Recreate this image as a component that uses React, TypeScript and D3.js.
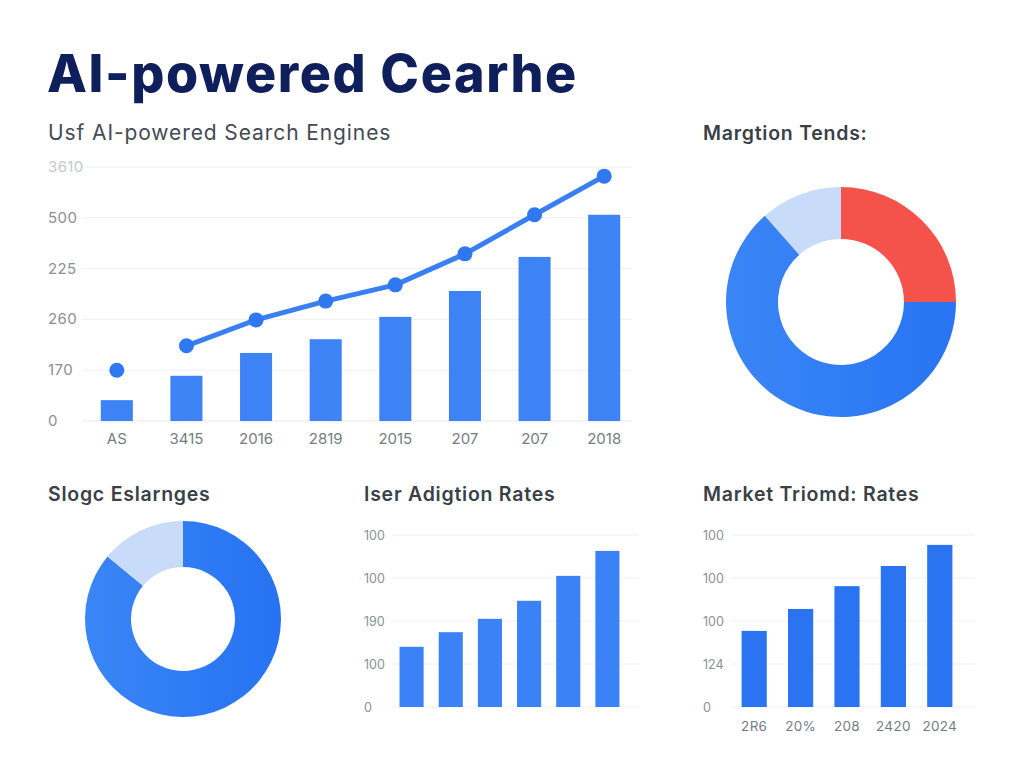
import React from "react";
import * as d3 from "d3";

// ---------- data ----------
const mainCategories = ["AS", "3415", "2016", "2819", "2015", "207", "207", "2018"];
const mainBars = [41, 89, 134, 161, 205, 256, 323, 406];
const mainLine = [100, 148, 199, 236, 268, 329, 406, 482];
const mainTickValues = [0, 100, 200, 300, 400, 500];
const mainTickLabels = ["0", "170", "260", "225", "500", "3610"];

const topDonutValues = [25, 63.5, 11.5];
const topDonutColors = ["#f4524a", "url(#gradA)", "#c8dbf8"];

const leftDonutValues = [86, 14];
const leftDonutColors = ["url(#gradB)", "#c8dbf8"];

const adoptionValues = [140, 174, 205, 247, 305, 363];
const adoptionTickValues = [0, 100, 200, 300, 400];
const adoptionTickLabels = ["0", "100", "190", "100", "100"];

const marketCategories = ["2R6", "20%", "208", "2420", "2024"];
const marketValues = [177, 228, 281, 328, 377];
const marketTickValues = [0, 100, 200, 300, 400];
const marketTickLabels = ["0", "124", "100", "100", "100"];

const FONT = "Inter, 'Open Sans', sans-serif";
const TICK = "#8a8f98";
const GRID = "#eef0f3";
const HEAD = "#3a3f48";

function MainChart() {
  const x = d3.scaleBand<string>().domain(mainCategories.map((c, i) => i + "")).range([82, 639]).paddingInner(0.54).paddingOuter(0.27);
  const y = d3.scaleLinear().domain([0, 500]).range([421, 167]);
  const cx = (i: number) => (x(i + "") as number) + x.bandwidth() / 2;
  const line = d3.line<number>().x((_, i) => cx(i + 1)).y((d) => y(d));
  return (
    <g>
      {mainTickValues.map((t, i) => (
        <g key={t}>
          <line x1={82} x2={632} y1={y(t)} y2={y(t)} stroke={i === 0 ? "#e6e9ee" : GRID} strokeWidth={1} />
          <text x={48} y={y(t) + 5} fontSize={15} letterSpacing={0.4} fill={i === 5 ? "#c4c7cc" : TICK} fontFamily={FONT}>{mainTickLabels[i]}</text>
        </g>
      ))}
      {mainBars.map((v, i) => (
        <rect key={i} x={x(i + "")} y={y(v)} width={x.bandwidth()} height={y(0) - y(v)} fill="#3d83f5" />
      ))}
      <path d={line(mainLine.slice(1)) || ""} fill="none" stroke="#3a7ff0" strokeWidth={5} strokeLinejoin="round" />
      {mainLine.map((v, i) => (
        <circle key={i} cx={cx(i)} cy={y(v)} r={7.5} fill="#2f78f0" />
      ))}
      {mainCategories.map((c, i) => (
        <text key={i} x={cx(i)} y={444} textAnchor="middle" fontSize={15} fill="#767c85" fontFamily={FONT}>{c}</text>
      ))}
    </g>
  );
}

function Donut({ cx, cy, r0, r1, values, colors }: any) {
  const pie = d3.pie<number>().sort(null).value((d) => d);
  const arc = d3.arc<d3.PieArcDatum<number>>().innerRadius(r0).outerRadius(r1);
  return (
    <g transform={`translate(${cx},${cy})`}>
      {pie(values).map((a, i) => (
        <path key={i} d={arc(a) || ""} fill={colors[i]} />
      ))}
    </g>
  );
}

function SmallBars({ x0, x1, y0, y1, labelX, values, tickValues, tickLabels, categories, padding, color }: any) {
  const x = d3.scaleBand<string>().domain(values.map((_: number, i: number) => i + "")).range([x0, x1]).paddingInner(padding).paddingOuter(padding / 2);
  const y = d3.scaleLinear().domain([0, 400]).range([y0, y1]);
  return (
    <g>
      {tickValues.map((t: number, i: number) => (
        <g key={t}>
          <line x1={labelX + 28} x2={x1 + 12} y1={y(t)} y2={y(t)} stroke={GRID} />
          <text x={labelX} y={y(t) + 4.5} fontSize={12.5} fill={TICK} fontFamily={FONT}>{tickLabels[i]}</text>
        </g>
      ))}
      {values.map((v: number, i: number) => (
        <rect key={i} x={x(i + "")} y={y(v)} width={x.bandwidth()} height={y(0) - y(v)} fill={color} />
      ))}
      {categories && categories.map((c: string, i: number) => (
        <text key={i} x={(x(i + "") as number) + x.bandwidth() / 2} y={731} textAnchor="middle" fontSize={13.5} letterSpacing={0.3} fill="#767c85" fontFamily={FONT}>{c}</text>
      ))}
    </g>
  );
}

export default function App() {
  const head = { fontSize: 19.5, fontWeight: 600, fill: HEAD, fontFamily: FONT, letterSpacing: 0.75 };
  return (
    <svg width={1024} height={768} style={{ position: "absolute", left: 0, top: 0, background: "#ffffff" }}>
      <defs>
        <linearGradient id="gradA" x1="0" x2="1" y1="0" y2="0">
          <stop offset="0" stopColor="#3a86f6" />
          <stop offset="1" stopColor="#2874f2" />
        </linearGradient>
        <linearGradient id="gradB" x1="0" x2="1" y1="0" y2="0">
          <stop offset="0" stopColor="#3a86f6" />
          <stop offset="1" stopColor="#2672f2" />
        </linearGradient>
      </defs>
      <rect width={1024} height={768} fill="#ffffff" />
      <text x={47} y={92} fontSize={52} fontWeight={800} fill="#0f1f5c" fontFamily={FONT} letterSpacing={1.6}>AI-powered Cearhe</text>
      <text x={48} y={140} fontSize={21} fill="#454a53" fontFamily={FONT} letterSpacing={0.9}>Usf AI-powered Search Engines</text>
      <text x={703} y={140} {...head}>Margtion Tends:</text>
      <text x={48} y={501} {...head}>Slogc Eslarnges</text>
      <text x={364} y={501} {...head}>Iser Adigtion Rates</text>
      <text x={703} y={501} {...head}>Market Triomd: Rates</text>
      <MainChart />
      <Donut cx={841} cy={302} r0={63} r1={115} values={topDonutValues} colors={topDonutColors} />
      <Donut cx={183} cy={619} r0={52} r1={98} values={leftDonutValues} colors={leftDonutColors} />
      <SmallBars x0={392} x1={627} y0={707} y1={535} labelX={364} values={adoptionValues} tickValues={adoptionTickValues} tickLabels={adoptionTickLabels} padding={0.385} color="#3a82f5" />
      <SmallBars x0={731} x1={963} y0={707} y1={535} labelX={703} values={marketValues} tickValues={marketTickValues} tickLabels={marketTickLabels} categories={marketCategories} padding={0.457} color="#2a74f2" />
    </svg>
  );
}
